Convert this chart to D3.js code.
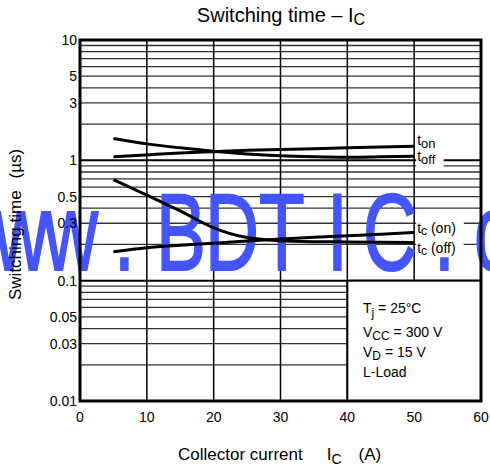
<!DOCTYPE html>
<html>
<head>
<meta charset="utf-8">
<script src="https://cdn.jsdelivr.net/npm/d3@7"></script>
<style>
body { margin: 0; background: #fff; }
svg { display: block; font-family: "Liberation Sans", Arial, Helvetica, sans-serif; }
</style>
</head>
<body>
<svg id="chart" width="490" height="470"></svg>
<script>
// values
var current = [5, 10, 15, 20, 25, 30, 35, 40, 45, 50];
var tOn     = [1.07, 1.11, 1.15, 1.18, 1.21, 1.23, 1.25, 1.27, 1.29, 1.31];
var tOff    = [1.52, 1.37, 1.27, 1.19, 1.13, 1.09, 1.07, 1.06, 1.07, 1.08];
var tcOn    = [0.174, 0.188, 0.197, 0.205, 0.214, 0.222, 0.229, 0.236, 0.243, 0.252];
var tcOff   = [0.69, 0.515, 0.38, 0.275, 0.228, 0.215, 0.211, 0.21, 0.209, 0.208];

var xTicks = [0, 10, 20, 30, 40, 50, 60];
var yTicks = [0.01, 0.03, 0.05, 0.1, 0.3, 0.5, 1, 3, 5, 10];
var yTickLabels = ["0.01", "0.03", "0.05", "0.1", "0.3", "0.5", "1", "3", "5", "10"];

var svg = d3.select("#chart");

var x = d3.scaleLinear().domain([0, 60]).range([80, 481]);
var y = d3.scaleLog().domain([0.01, 10]).range([401, 40]);

// grid
var grid = svg.append("g").attr("class", "grid");
var minor = y.ticks();
grid.selectAll(".hline")
    .data(minor)
    .enter()
    .append("line")
    .attr("class", "hline")
    .attr("x1", x(0)).attr("x2", x(60))
    .attr("y1", function (d) { return y(d); })
    .attr("y2", function (d) { return y(d); })
    .attr("stroke", function (d) { return (d === 1 || d === 0.1) ? "#000" : "#333"; })
    .attr("stroke-width", function (d) { return (d === 1 || d === 0.1) ? 2 : 1.3; });

grid.selectAll(".vline")
    .data(xTicks.slice(1, -1))
    .enter()
    .append("line")
    .attr("class", "vline")
    .attr("x1", function (d) { return x(d); })
    .attr("x2", function (d) { return x(d); })
    .attr("y1", y(10)).attr("y2", y(0.01))
    .attr("stroke", "#000")
    .attr("stroke-width", 1.5);

// condition box
svg.append("rect")
    .attr("x", x(40)).attr("y", y(0.1))
    .attr("width", x(60) - x(40)).attr("height", y(0.01) - y(0.1))
    .attr("fill", "#fff")
    .attr("stroke", "#000")
    .attr("stroke-width", 2);

var cond = svg.append("g")
    .attr("font-size", 14)
    .attr("fill", "#000");

function subText(g, px, py, parts) {
    var t = g.append("text").attr("x", px).attr("y", py);
    parts.forEach(function (p) {
        var s = t.append("tspan").text(p[0]);
        if (p[1]) {
            s.attr("font-size", p[2] || 12).attr("dy", p[1]);
        }
    });
    return t;
}

subText(cond, 363, 313, [["T"], ["j", 4], [" = 25°C", -4, 14]]);
subText(cond, 363, 337, [["V"], ["CC", 3], [" = 300 V", -3, 14]]);
subText(cond, 363, 357, [["V"], ["D", 3], [" = 15 V", -3, 14]]);
subText(cond, 363, 377, [["L-Load"]]);

// curve labels, with white boxes that break the grid
var labels = svg.append("g").attr("font-size", 14);
var lastX = x(current[current.length - 1]) + 3;
var curveLabels = [
    [tOn, -1, [["t"], ["on", 3, 13]]],
    [tOff, 5, [["t"], ["off", 3, 13]]],
    [tcOn, 1, [["t"], ["c", 2, 12], [" (on)", -2, 14]]],
    [tcOff, 11, [["t"], ["c", 2, 12], [" (off)", -2, 14]]]
];
curveLabels.forEach(function (c) {
    var vals = c[0];
    var t = subText(labels, lastX, y(vals[vals.length - 1]) + c[1], c[2]);
    var bb = t.node().getBBox();
    labels.insert("rect", "text")
        .attr("x", lastX - 1)
        .attr("y", bb.y - 1)
        .attr("width", bb.width + 9)
        .attr("height", bb.height + 2)
        .attr("fill", "#fff");
});

// watermark
var wmScale = 0.68;
var wm = svg.append("text")
    .attr("transform", "translate(0,270) scale(" + wmScale + ",1)")
    .attr("font-size", 110)
    .attr("fill", "#4455ff")
    .attr("stroke", "#4455ff")
    .attr("stroke-width", 2);
var wmChars = "www.BDTIC.com".split("");
var wmLeft = [-58, -6, 44, 114, 156, 205, 259, 327, 363, 434, 474, 534, 594];
wm.selectAll("tspan")
    .data(wmChars)
    .enter()
    .append("tspan")
    .attr("x", function (d, i) { return wmLeft[i] / wmScale; })
    .attr("y", 0)
    .text(function (d) { return d; });

// curves
var line = d3.line()
    .x(function (d) { return x(d[0]); })
    .y(function (d) { return y(d[1]); })
    .curve(d3.curveMonotoneX);

[tOn, tOff, tcOn, tcOff].forEach(function (s) {
    svg.append("path")
        .datum(d3.zip(current, s))
        .attr("d", line)
        .attr("fill", "none")
        .attr("stroke", "#000")
        .attr("stroke-width", 3);
});

// frame
svg.append("rect")
    .attr("x", x(0)).attr("y", y(10))
    .attr("width", x(60) - x(0)).attr("height", y(0.01) - y(10))
    .attr("fill", "none")
    .attr("stroke", "#000")
    .attr("stroke-width", 3);

// tick labels
svg.append("g")
    .attr("font-size", 14)
    .attr("text-anchor", "middle")
    .selectAll("text")
    .data(xTicks)
    .enter()
    .append("text")
    .attr("x", function (d) { return x(d); })
    .attr("y", 421.5)
    .text(function (d) { return d; });

svg.append("g")
    .attr("font-size", 14)
    .attr("text-anchor", "end")
    .selectAll("text")
    .data(yTicks)
    .enter()
    .append("text")
    .attr("x", 77)
    .attr("y", function (d) { return y(d); })
    .attr("dy", "0.36em")
    .text(function (d, i) { return yTickLabels[i]; });

// titles
var title = svg.append("text")
    .attr("x", 281).attr("y", 22)
    .attr("text-anchor", "middle")
    .attr("font-size", 20);
title.append("tspan").text("Switching time – I");
title.append("tspan").text("C").attr("font-size", 16).attr("dy", 3);

var xTitle = svg.append("text")
    .attr("x", 178).attr("y", 460)
    .attr("font-size", 17);
xTitle.append("tspan").text("Collector current");
xTitle.append("tspan").text("I").attr("dx", 24);
xTitle.append("tspan").text("C").attr("font-size", 14).attr("dy", 4);
xTitle.append("tspan").text("(A)").attr("dx", 17).attr("dy", -4);

var yTitle = svg.append("text")
    .attr("transform", "translate(21,300) rotate(-90)")
    .attr("font-size", 17);
yTitle.append("tspan").text("Switching time");
yTitle.append("tspan").text("(µs)").attr("dx", 12);
</script>
</body>
</html>
